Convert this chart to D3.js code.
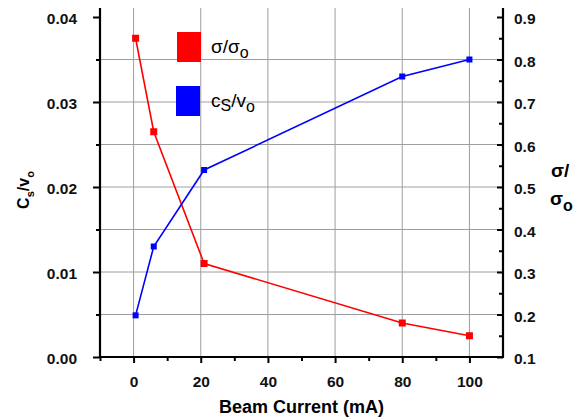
<!DOCTYPE html>
<html lang="en">
<head>
<meta charset="utf-8">
<title>beam current</title>
<script src="https://cdn.jsdelivr.net/npm/d3@7"></script>
<style>
  body { margin: 0; background: #fff; }
  text { font-family: "Liberation Sans", Arial, sans-serif; }
  .tick text { font-size: 15.5px; font-weight: bold; fill: #111; }
  .grid line { stroke: #9e9e9e; stroke-width: 1px; }
</style>
</head>
<body>
<div id="chart"></div>
<script>
// data
var current = [0.6, 6, 21, 80, 100];          // beam current (mA)
var csVo = [0.0049, 0.013, 0.022, 0.033, 0.035]; // left axis, blue
var sigma = [0.85, 0.63, 0.32, 0.18, 0.15];    // right axis, red

var xTicks = [0, 20, 40, 60, 80, 100];
var leftTicks = [0, 0.01, 0.02, 0.03, 0.04];
var rightTicks = [0.1, 0.2, 0.3, 0.4, 0.5, 0.6, 0.7, 0.8, 0.9];

var W = 583, H = 419;
var plot = {left: 100, right: 503, top: 17, bottom: 357, axisTop: 8};

var svg = d3.select("#chart").append("svg")
    .attr("width", W).attr("height", H);

var x = d3.scaleLinear().domain([-10, 110]).range([plot.left, plot.right]);
var yL = d3.scaleLinear().domain([0, 0.04]).range([plot.bottom, plot.top]);
var yR = d3.scaleLinear().domain([0.1, 0.9]).range([plot.bottom, plot.top]);

// gridlines
var grid = svg.append("g").attr("class", "grid");
grid.selectAll("line.v").data(xTicks).enter().append("line")
    .attr("class", "v")
    .attr("x1", d => x(d)).attr("x2", d => x(d))
    .attr("y1", plot.axisTop).attr("y2", plot.bottom);
grid.selectAll("line.h").data(d3.range(1, 8).map(i => i * 0.005)).enter().append("line")
    .attr("class", "h")
    .attr("x1", plot.left).attr("x2", plot.right)
    .attr("y1", d => yL(d)).attr("y2", d => yL(d));

// axes
var xAxis = svg.append("g")
    .attr("transform", "translate(0," + plot.bottom + ")")
    .call(d3.axisBottom(x).tickValues(xTicks).tickSize(6).tickPadding(13).tickFormat(d3.format("d")));

var lAxis = svg.append("g")
    .attr("transform", "translate(" + plot.left + ",0)")
    .call(d3.axisLeft(yL).tickValues(leftTicks).tickSize(7).tickPadding(16).tickFormat(d3.format(".2f")));

var rAxis = svg.append("g")
    .attr("transform", "translate(" + plot.right + ",0)")
    .call(d3.axisRight(yR).tickValues(rightTicks).tickSize(-6).tickPadding(11).tickFormat(d3.format(".1f")));

// minor ticks
svg.append("g")
    .attr("transform", "translate(0," + plot.bottom + ")")
    .call(d3.axisBottom(x).tickValues(d3.range(-10, 110, 20)).tickSize(4).tickFormat(""));
svg.append("g")
    .attr("transform", "translate(" + plot.left + ",0)")
    .call(d3.axisLeft(yL).tickValues(d3.range(0, 4).map(i => i * 0.01 + 0.005)).tickSize(4).tickFormat(""));
svg.append("g")
    .attr("transform", "translate(" + plot.right + ",0)")
    .call(d3.axisRight(yR).tickValues(d3.range(0, 8).map(i => 0.15 + i * 0.1)).tickSize(-4).tickFormat(""));

svg.selectAll(".domain").remove();
svg.selectAll(".tick line").attr("stroke", "#000").attr("stroke-width", 2);
lAxis.selectAll(".tick text").attr("dy", "0.42em");
rAxis.selectAll(".tick text").attr("dy", "0.42em");

// axis lines
var frame = svg.append("g").attr("stroke", "#000").attr("stroke-width", 2.2);
frame.append("line").attr("x1", plot.left).attr("x2", plot.left).attr("y1", plot.axisTop).attr("y2", plot.bottom + 1);
frame.append("line").attr("x1", plot.right).attr("x2", plot.right).attr("y1", plot.axisTop).attr("y2", plot.bottom + 1);
frame.append("line").attr("x1", plot.left - 1).attr("x2", plot.right + 1).attr("y1", plot.bottom).attr("y2", plot.bottom);

// series
function series(vals, yScale, color, size) {
    var pts = current.map((c, i) => [x(c), yScale(vals[i])]);
    svg.append("path")
        .attr("d", d3.line()(pts))
        .attr("fill", "none")
        .attr("stroke", color)
        .attr("stroke-width", 1.6);
    svg.append("g").selectAll("rect").data(pts).enter().append("rect")
        .attr("x", d => d[0] - size / 2)
        .attr("y", d => d[1] - size / 2)
        .attr("width", size).attr("height", size)
        .attr("fill", color);
}
series(sigma, yR, "#ff0000", 7);
series(csVo, yL, "#0000ff", 6);

// legend
var legend = svg.append("g");
legend.append("rect").attr("x", 177).attr("y", 32).attr("width", 24).attr("height", 30).attr("fill", "#ff0000");
legend.append("rect").attr("x", 176).attr("y", 86).attr("width", 24).attr("height", 30).attr("fill", "#0000ff");

var t1 = legend.append("text").attr("x", 211).attr("y", 53).style("font-size", "19px");
t1.append("tspan").text("σ/σ");
t1.append("tspan").attr("dy", 5).style("font-size", "16px").text("o");

var t2 = legend.append("text").attr("x", 211).attr("y", 107).style("font-size", "19px");
t2.append("tspan").text("c");
t2.append("tspan").attr("dy", 4).style("font-size", "16px").text("S");
t2.append("tspan").attr("dy", -4).text("/v");
t2.append("tspan").attr("dy", 5).style("font-size", "16px").text("o");

// axis titles
svg.append("text")
    .attr("x", (plot.left + plot.right) / 2)
    .attr("y", 413)
    .attr("text-anchor", "middle")
    .style("font-size", "18px").style("font-weight", "bold")
    .text("Beam Current (mA)");

var lt = svg.append("text")
    .attr("transform", "translate(29,190) rotate(-90)")
    .attr("text-anchor", "middle")
    .style("font-size", "16px").style("font-weight", "bold");
lt.append("tspan").text("C");
lt.append("tspan").attr("dy", 5).style("font-size", "11px").text("s");
lt.append("tspan").attr("dy", -5).text("/v");
lt.append("tspan").attr("dy", 5).style("font-size", "11px").text("o");

svg.append("text")
    .attr("x", 551).attr("y", 177)
    .style("font-size", "19px").style("font-weight", "bold")
    .text("σ/");
var rt = svg.append("text")
    .attr("x", 550).attr("y", 205)
    .style("font-size", "19px").style("font-weight", "bold");
rt.append("tspan").text("σ");
rt.append("tspan").attr("dy", 6).style("font-size", "16px").text("o");
</script>
</body>
</html>
